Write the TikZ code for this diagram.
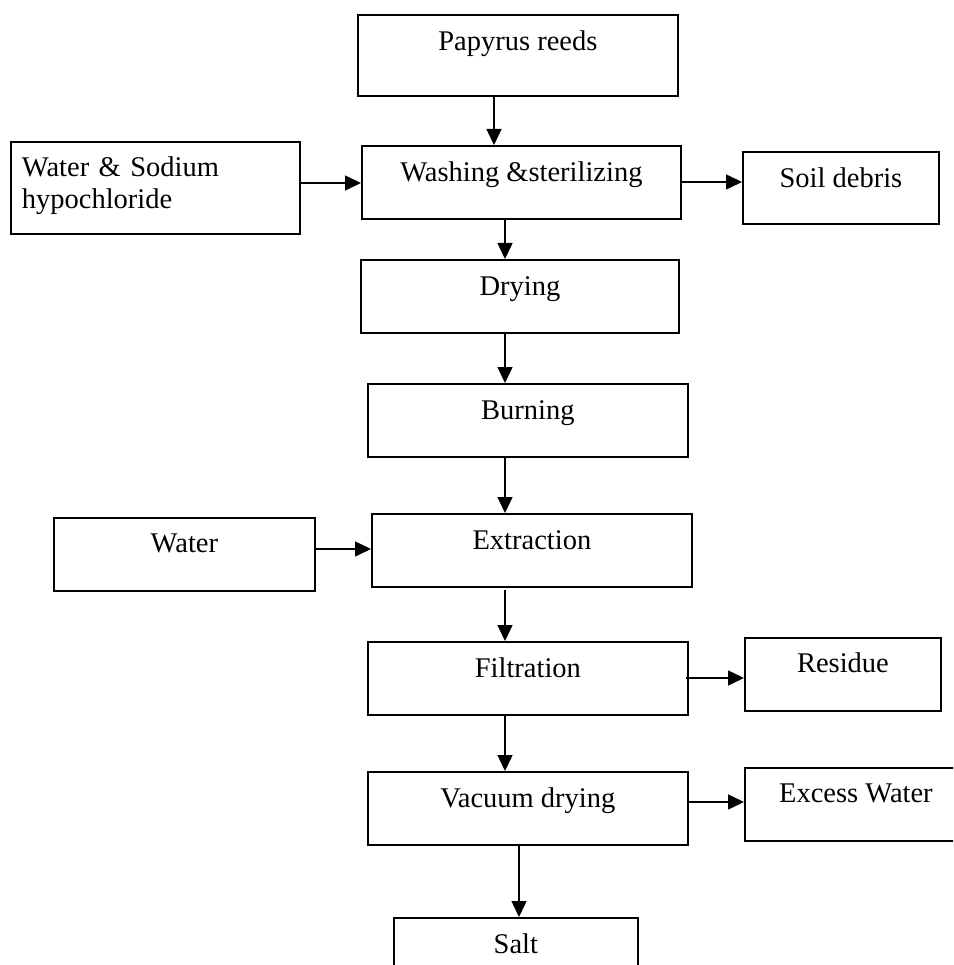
\documentclass[tikz,border=0pt]{standalone}
\usepackage{fontspec}
\setmainfont{Liberation Serif}
\usetikzlibrary{arrows.meta}
\usetikzlibrary{positioning}

\begin{document}
\begin{tikzpicture}[x=1pt, y=-1pt,
  >={Triangle[length=16pt,width=15pt]},
  proc/.style={draw, line width=1.8pt, anchor=north west, inner sep=0pt,
    font=\fontsize{28.5}{32}\selectfont, text height=36pt},
  flow/.style={->, line width=1.5pt}]
\useasboundingbox (0,0) rectangle (953,965);
\clip (0,0) rectangle (953,965);

% main line
\node[proc, minimum width=320pt, text depth=45pt] (reeds) at (357,14) {Papyrus reeds};
\node[proc, minimum width=319pt, text depth=37pt] (wash) at (361,145) {Washing \&sterilizing};
\node[proc, minimum width=318pt, text depth=37pt] (dry) at (360,259) {Drying};
\node[proc, minimum width=320pt, text depth=37pt] (burn) at (367,383) {Burning};
\node[proc, minimum width=320pt, text depth=37pt] (extr) at (371,513) {Extraction};
\node[proc, minimum width=320pt, text depth=37pt] (filt) at (367,641) {Filtration};
\node[proc, minimum width=320pt, text depth=37pt] (vac) at (367,771) {Vacuum drying};
\node[proc, minimum width=244pt, text depth=37pt] (salt) at (393,917) {Salt};

% inputs
\node[proc, text width=267pt, inner xsep=11pt, align=left, text height=35pt, text depth=57pt] (chem) at (10,141) {Water \& Sodium\\hypochloride};
\node[proc, minimum width=261pt, text height=35pt, text depth=38pt] (water) at (53,517) {Water};

% outputs
\node[proc, minimum width=196pt, text depth=36pt] (soil) at (742,151) {Soil debris};
\node[proc, minimum width=196pt, text height=35pt, text depth=38pt] (resid) at (744,637) {Residue};
\node[proc, minimum width=222pt, text height=35pt, text depth=38pt] (excess) at (744,767) {Excess Water};

% arrows down
\draw[flow] ([xshift=137pt]reeds.south west) -- ([xshift=133pt]wash.north west);
\draw[flow] ([xshift=144pt]wash.south west) -- ([xshift=145pt]dry.north west);
\draw[flow] ([xshift=145pt]dry.south west) -- ([xshift=138pt]burn.north west);
\draw[flow] ([xshift=138pt]burn.south west) -- ([xshift=134pt]extr.north west);
\draw[flow] ([xshift=134pt,yshift=-2pt]extr.south west) -- ([xshift=138pt]filt.north west);
\draw[flow] ([xshift=138pt]filt.south west) -- ([xshift=138pt]vac.north west);
\draw[flow] ([xshift=152pt]vac.south west) -- ([xshift=126pt]salt.north west);

% arrows sideways
\draw[flow] ([yshift=-42pt]chem.north east) -- ([yshift=-38pt]wash.north west);
\draw[flow] ([yshift=-37pt]wash.north east) -- ([yshift=-31pt]soil.north west);
\draw[flow] ([yshift=-32pt]water.north east) -- ([yshift=-36pt]extr.north west);
\draw[flow] ([xshift=-3pt,yshift=-37pt]filt.north east) -- ([yshift=-41pt]resid.north west);
\draw[flow] ([yshift=-31pt]vac.north east) -- ([yshift=-35pt]excess.north west);
\end{tikzpicture}
\end{document}
